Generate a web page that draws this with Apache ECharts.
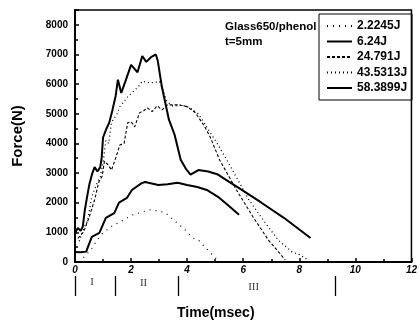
<!DOCTYPE html>
<html>
<head>
<meta charset="utf-8">
<script src="https://cdn.jsdelivr.net/npm/echarts@6/dist/echarts.min.js"></script>
<style>
  html, body { margin: 0; padding: 0; background: #fff; }
  #chart { width: 420px; height: 322px; }
</style>
</head>
<body>
<div id="chart"></div>
<script>
// force-time curves, [time msec, force N]
const e2_2245 = [[0.3,150],[0.45,300],[0.56,400],[0.8,750],[1.0,980],[1.3,1200],[1.6,1350],[2.06,1590],
  [2.65,1760],[3.0,1720],[3.24,1650],[3.6,1350],[3.93,1080],[4.2,810],[4.4,740],[4.63,510],[4.98,170],[5.15,0]]
const e6_24 = [[0,340],[0.2,330],[0.4,350],[0.5,600],[0.6,850],[0.87,980],[1.1,1490],[1.4,1650],[1.57,2000],
  [1.85,2160],[2.03,2430],[2.38,2660],[2.5,2700],[2.97,2600],[3.3,2620],[3.66,2670],[4.0,2600],[4.36,2530],
  [4.7,2430],[5.1,2200],[5.44,1930],[5.85,1590]]
const e24_791 = [[0.1,800],[0.3,1000],[0.5,1500],[0.7,2100],[0.85,2700],[0.97,2900],[1.05,3400],[1.18,3280],
  [1.3,3100],[1.45,3500],[1.6,3950],[1.75,4000],[1.88,4700],[2.0,4730],[2.13,4560],[2.3,5030],[2.45,5100],
  [2.58,5200],[2.75,5070],[2.93,5270],[3.1,5130],[3.3,5300],[3.7,5300],[4.0,5240],[4.3,5030],[4.63,4560],
  [4.82,4220],[5.16,3440],[5.76,2430],[6.35,1520],[6.9,740],[7.5,70]]
const e43_5313 = [[0.15,700],[0.3,1100],[0.45,1400],[0.6,2200],[0.8,2700],[0.9,2870],[1.0,3340],[1.1,4100],
  [1.2,4000],[1.3,4700],[1.5,5000],[1.6,5240],[1.88,5570],[2.13,5800],[2.25,5900],[2.4,6100],[2.6,6050],
  [2.8,6050],[3.0,6100],[3.1,5900],[3.28,5400],[3.5,5250],[3.8,5300],[4.1,5200],[4.4,5000],[4.7,4550],
  [5.06,4020],[5.5,3300],[6.2,2100],[6.8,1300],[7.25,740],[7.74,340],[8.0,250],[8.3,80]]
const e58_3899 = [[0.02,1000],[0.1,1150],[0.2,1050],[0.28,1200],[0.35,1750],[0.45,2300],[0.52,2650],[0.62,3000],
  [0.7,3200],[0.8,3050],[0.9,3200],[0.95,3500],[1.0,4200],[1.1,4450],[1.22,4700],[1.33,5100],[1.45,5600],
  [1.53,6150],[1.65,5700],[1.8,6100],[2.0,6650],[2.07,6700],[2.23,6400],[2.4,6950],[2.54,6750],[2.7,6900],
  [2.88,7000],[2.95,6800],[3.1,5900],[3.35,4800],[3.55,4300],[3.77,3450],[3.95,3150],[4.12,2950],[4.4,3100],
  [4.75,3050],[5.1,2950],[5.5,2700],[5.95,2430],[6.65,2000],[7.45,1490],[8.4,810]]

const seriesNames = ['2.2245J', '6.24J', '24.791J', '43.5313J', '58.3899J']

// impact stages below the time axis
const stageBounds = [0, 1.42, 3.6, 9.1]
const stageLabels = [[0.6, 0.7, 'I'], [2.4, 0.65, 'II'], [6.25, 0.45, 'III']]

const font = 'Liberation Sans, Arial, sans-serif'

function curve(name, data, type, width) {
    return {
        name: name,
        type: 'line',
        data: data,
        symbol: 'none',
        silent: true,
        lineStyle: { color: '#000', width: width, type: type },
        itemStyle: { color: '#000' }
    }
}

const option = {
    animation: false,
    backgroundColor: '#fff',
    title: [
        { text: 'Glass650/phenol', left: 220, top: 16, textStyle: { fontFamily: font, fontSize: 11.5, fontWeight: 'bold', color: '#000' } },
        { text: 't=5mm', left: 220, top: 31, textStyle: { fontFamily: font, fontSize: 11.5, fontWeight: 'bold', color: '#000' } },
        { text: 'Time(msec)', left: 172, top: 301, textStyle: { fontFamily: font, fontSize: 14, fontWeight: 'bold', color: '#000' } }
    ],
    legend: {
        orient: 'vertical',
        left: 319,
        top: 14,
        padding: [6, 5, 6, 7],
        itemWidth: 25,
        itemHeight: 11,
        itemGap: 3.5,
        borderColor: '#000',
        borderWidth: 1,
        data: seriesNames,
        itemStyle: { opacity: 0 },
        textStyle: { fontFamily: font, fontSize: 12, fontWeight: 'bold', color: '#000' }
    },
    grid: [
        { left: 75, right: 2, top: 10, bottom: 60, show: true, borderColor: '#000', borderWidth: 1.5 },
        { left: 75, right: 2, top: 276, height: 20 }
    ],
    xAxis: [
        {
            type: 'value', min: 0, max: 12, interval: 2,
            axisLine: { lineStyle: { color: '#000', width: 2 } },
            axisTick: { inside: true, length: 4, lineStyle: { color: '#000', width: 1.5 } },
            minorTick: { show: true, splitNumber: 2, length: 3, lineStyle: { color: '#000', width: 1.5 } },
            splitLine: { show: false },
            axisLabel: { margin: 3, fontFamily: font, fontSize: 10, fontWeight: 'bold', fontStyle: 'italic', color: '#000' }
        },
        { gridIndex: 1, type: 'value', min: 0, max: 12, show: false }
    ],
    yAxis: [
        {
            type: 'value', min: 0, max: 8500, interval: 1000,
            name: 'Force(N)', nameLocation: 'middle', nameGap: 50,
            nameTextStyle: { fontFamily: font, fontSize: 15, fontWeight: 'bold', color: '#000' },
            axisLine: { lineStyle: { color: '#000', width: 2 } },
            axisTick: { inside: true, length: 4, lineStyle: { color: '#000', width: 1.5 } },
            minorTick: { show: true, splitNumber: 2, length: 3, lineStyle: { color: '#000', width: 1.5 } },
            splitLine: { show: false },
            axisLabel: {
                margin: 7, showMaxLabel: false,
                formatter: function (v) { return String(v) },
                fontFamily: font, fontSize: 10, fontWeight: 'bold', color: '#000'
            }
        },
        { gridIndex: 1, type: 'value', min: 0, max: 1, show: false }
    ],
    series: [
        curve(seriesNames[0], e2_2245, [1, 5], 1.2),
        curve(seriesNames[1], e6_24, 'solid', 2),
        curve(seriesNames[2], e24_791, [3, 2], 1.1),
        curve(seriesNames[3], e43_5313, [1, 3], 1.3),
        curve(seriesNames[4], e58_3899, 'solid', 2),
        {
            type: 'scatter',
            xAxisIndex: 1,
            yAxisIndex: 1,
            silent: true,
            symbolSize: 0,
            data: stageLabels,
            label: {
                show: true,
                position: 'inside',
                formatter: function (p) { return p.value[2] },
                fontFamily: 'Liberation Serif, DejaVu Serif, serif',
                fontSize: 11,
                color: '#000'
            },
            markLine: {
                silent: true,
                symbol: 'none',
                label: { show: false },
                lineStyle: { color: '#000', width: 1.3, type: 'solid' },
                data: stageBounds.map(function (v) { return { xAxis: v } })
            }
        }
    ]
}

const chart = echarts.init(document.getElementById('chart'))
chart.setOption(option)
</script>
</body>
</html>
